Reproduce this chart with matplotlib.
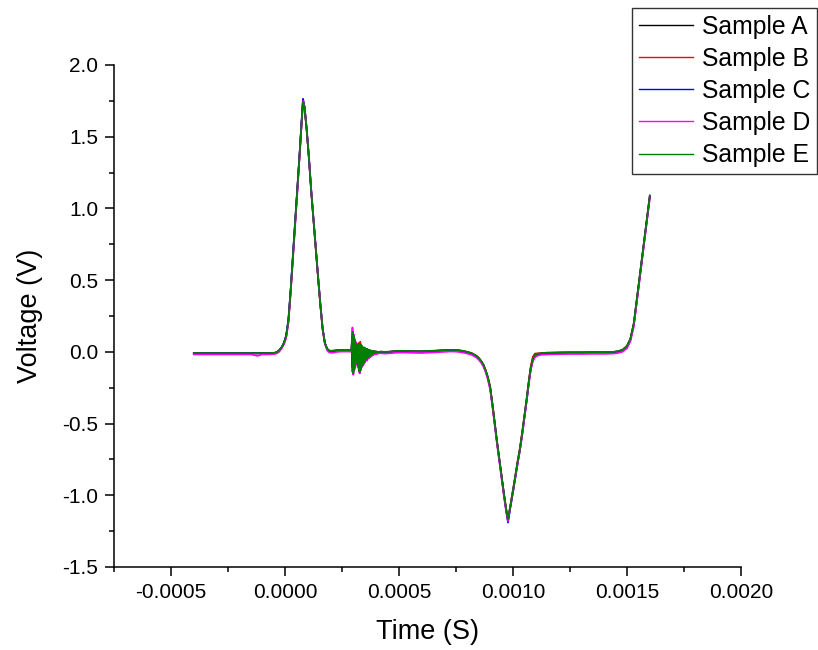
import numpy as np
import matplotlib
matplotlib.use("Agg")
import matplotlib.pyplot as plt
from matplotlib.ticker import MultipleLocator, FuncFormatter

plt.rcParams['font.family'] = ['Liberation Sans', 'DejaVu Sans']

# ---- data (time in microseconds, voltage in V) ----
time_pre_us = [-400, -350, -300, -250, -200, -150, -120, -100, -80, -60,
               -45, -35, -25, -15, -5, 5, 15, 25, 35, 45, 55, 65, 72, 79, 86,
               95, 105, 115, 125, 135, 145, 155, 165, 175, 185, 195, 210, 230, 250, 270, 285]
time_burst_us = [290, 292, 294, 296, 298, 300, 302, 304, 306, 308, 310, 312, 314, 316, 318,
                 320, 322, 324, 326, 328, 330, 332, 334, 336, 338, 340, 342, 344, 346, 348,
                 350, 352, 354, 356, 358, 360, 362, 364, 366, 368, 370, 372, 374, 376, 378,
                 380, 382, 384, 386, 388, 390, 392, 394, 396, 398, 400, 402, 404, 406, 408,
                 410, 412, 414]
time_post_us = [420, 440, 460, 480, 500, 530, 560, 600, 640, 680, 700, 720, 740, 760, 780, 800,
                820, 840, 850, 860, 870, 880, 890,
                900, 910, 920, 930, 940, 950, 960, 970, 978,
                988, 1000, 1010, 1020, 1030, 1040, 1050, 1060, 1070, 1078, 1087, 1096, 1110, 1127,
                1150, 1200, 1250, 1300, 1350, 1400, 1440, 1460, 1480, 1500,
                1515, 1530, 1545, 1560, 1575, 1590, 1600]

a_pre = [-0.010, -0.010, -0.010, -0.010, -0.010, -0.010, -0.010, -0.010, -0.010, -0.009,
         -0.007, -0.002, 0.010, 0.030, 0.060, 0.110, 0.220, 0.430, 0.670, 0.910, 1.150, 1.400, 1.580, 1.755, 1.700,
         1.550, 1.350, 1.120, 0.920, 0.720, 0.520, 0.330, 0.160, 0.060, 0.020, 0.005, 0.005, 0.010, 0.010, 0.010, 0.010]
b_pre = [-0.011, -0.011, -0.011, -0.011, -0.011, -0.011, -0.011, -0.011, -0.011, -0.010,
         -0.008, -0.003, 0.008, 0.028, 0.058, 0.105, 0.215, 0.425, 0.665, 0.905, 1.145, 1.395, 1.575, 1.750, 1.700,
         1.545, 1.345, 1.115, 0.915, 0.715, 0.515, 0.325, 0.155, 0.058, 0.020, 0.006, 0.008, 0.012, 0.011, 0.010, 0.010]
c_pre = [-0.010, -0.010, -0.010, -0.010, -0.010, -0.010, -0.010, -0.010, -0.010, -0.009,
         -0.007, -0.001, 0.012, 0.032, 0.062, 0.115, 0.225, 0.440, 0.680, 0.920, 1.160, 1.410, 1.595, 1.765, 1.705,
         1.555, 1.355, 1.125, 0.925, 0.725, 0.525, 0.335, 0.165, 0.062, 0.020, 0.005, 0.004, 0.009, 0.010, 0.009, 0.010]
d_pre = [-0.018, -0.018, -0.018, -0.018, -0.018, -0.018, -0.028, -0.018, -0.018, -0.017,
         -0.015, -0.010, 0.002, 0.022, 0.050, 0.095, 0.200, 0.410, 0.650, 0.890, 1.130, 1.385, 1.570, 1.750, 1.710,
         1.560, 1.360, 1.130, 0.930, 0.730, 0.530, 0.340, 0.165, 0.055, 0.010, -0.005, -0.006, 0.000, 0.002, 0.002, 0.002]
e_pre = [-0.009, -0.009, -0.009, -0.009, -0.009, -0.009, -0.009, -0.009, -0.009, -0.008,
         -0.006, -0.001, 0.011, 0.031, 0.061, 0.110, 0.220, 0.430, 0.670, 0.910, 1.150, 1.400, 1.580, 1.745, 1.695,
         1.550, 1.350, 1.120, 0.920, 0.720, 0.520, 0.330, 0.160, 0.062, 0.022, 0.008, 0.008, 0.012, 0.012, 0.012, 0.012]

a_burst = [0.01, 0.02, 0.08, -0.10, 0.11, -0.12, 0.09, -0.10, 0.07, -0.08,
           0.05, -0.07, 0.04, -0.05, 0.03, -0.08, 0.04, -0.11, 0.05, -0.12,
           0.06, -0.10, 0.04, -0.09, 0.03, -0.08, 0.03, -0.07, 0.02, -0.06,
           0.02, -0.05, 0.02, -0.045, 0.015, -0.04, 0.015, -0.035, 0.01, -0.03,
           0.01, -0.025, 0.01, -0.02, 0.005, -0.015, 0.005, -0.012, 0.004, -0.01,
           0.003, -0.008, 0.002, -0.006, 0.002, -0.005, 0.001, -0.004, 0.001, -0.003,
           0.0, -0.002, 0.0]
b_burst = [0.01, 0.02, 0.07, -0.09, 0.10, -0.11, 0.08, -0.09, 0.06, -0.07,
           0.05, -0.08, 0.04, -0.09, 0.05, -0.10, 0.06, -0.11, 0.06, -0.12,
           0.07, -0.10, 0.05, -0.09, 0.04, -0.08, 0.03, -0.07, 0.02, -0.06,
           0.02, -0.05, 0.02, -0.04, 0.015, -0.035, 0.01, -0.03, 0.01, -0.025,
           0.01, -0.02, 0.005, -0.018, 0.005, -0.015, 0.004, -0.012, 0.003, -0.01,
           0.003, -0.008, 0.002, -0.006, 0.002, -0.005, 0.001, -0.004, 0.001, -0.003,
           0.0, -0.002, 0.0]
c_burst = [0.01, 0.02, 0.09, -0.11, 0.12, -0.13, 0.10, -0.11, 0.07, -0.09,
           0.05, -0.07, 0.04, -0.06, 0.03, -0.09, 0.04, -0.12, 0.05, -0.13,
           0.05, -0.11, 0.04, -0.10, 0.03, -0.085, 0.03, -0.075, 0.02, -0.065,
           0.02, -0.055, 0.015, -0.05, 0.015, -0.045, 0.01, -0.04, 0.01, -0.03,
           0.01, -0.025, 0.005, -0.02, 0.005, -0.016, 0.004, -0.013, 0.003, -0.01,
           0.002, -0.008, 0.002, -0.006, 0.001, -0.005, 0.001, -0.004, 0.0, -0.003,
           0.0, -0.002, 0.0]
d_burst = [0.0, 0.02, 0.10, 0.17, -0.15, -0.16, 0.12, -0.13, 0.09, -0.11,
           0.07, -0.09, 0.05, -0.07, 0.03, -0.11, 0.04, -0.14, 0.05, -0.15,
           0.04, -0.13, 0.03, -0.11, 0.03, -0.10, 0.02, -0.09, 0.02, -0.08,
           0.02, -0.07, 0.01, -0.06, 0.01, -0.06, 0.01, -0.05, 0.005, -0.045,
           0.0, -0.04, 0.0, -0.035, 0.0, -0.03, -0.005, -0.025, -0.005, -0.02,
           -0.006, -0.018, -0.008, -0.016, -0.008, -0.014, -0.01, -0.013, -0.01, -0.012,
           -0.01, -0.011, -0.01]
e_burst = [0.01, 0.02, 0.12, -0.14, 0.14, -0.15, 0.11, -0.12, 0.08, -0.10,
           0.06, -0.08, 0.04, -0.06, 0.03, -0.10, 0.05, -0.13, 0.06, -0.14,
           0.05, -0.12, 0.04, -0.10, 0.04, -0.09, 0.03, -0.08, 0.03, -0.07,
           0.03, -0.06, 0.02, -0.05, 0.02, -0.05, 0.02, -0.04, 0.015, -0.035,
           0.01, -0.03, 0.01, -0.025, 0.01, -0.02, 0.005, -0.015, 0.005, -0.012,
           0.004, -0.01, 0.003, -0.008, 0.002, -0.006, 0.002, -0.004, 0.001, -0.003,
           0.0, -0.002, 0.0]

a_post = [0.000, -0.002, 0.000, 0.003, 0.005, 0.005, 0.003, 0.002, 0.005, 0.008, 0.010, 0.012, 0.012, 0.010, 0.005, -0.002,
          -0.012, -0.030, -0.045, -0.065, -0.090, -0.130, -0.180,
          -0.250, -0.370, -0.500, -0.630, -0.750, -0.870, -0.990, -1.100, -1.175,
          -1.080, -0.970, -0.870, -0.770, -0.680, -0.570, -0.450, -0.330, -0.200, -0.110, -0.050, -0.025, -0.015, -0.010,
          -0.008, -0.006, -0.005, -0.005, -0.004, -0.004, -0.002, 0.003, 0.012, 0.040,
          0.090, 0.200, 0.390, 0.580, 0.770, 0.960, 1.090]
b_post = [0.001, -0.001, 0.001, 0.004, 0.006, 0.006, 0.004, 0.003, 0.006, 0.009, 0.011, 0.012, 0.012, 0.010, 0.006, -0.001,
          -0.010, -0.028, -0.043, -0.062, -0.088, -0.128, -0.178,
          -0.245, -0.365, -0.495, -0.625, -0.745, -0.865, -0.985, -1.095, -1.170,
          -1.075, -0.965, -0.865, -0.765, -0.675, -0.565, -0.445, -0.325, -0.195, -0.100, -0.035, -0.012, -0.010, -0.008,
          -0.006, -0.005, -0.004, -0.004, -0.003, -0.003, -0.001, 0.004, 0.013, 0.041,
          0.088, 0.195, 0.385, 0.575, 0.765, 0.955, 1.085]
c_post = [0.000, -0.002, 0.000, 0.003, 0.005, 0.005, 0.003, 0.002, 0.005, 0.008, 0.010, 0.012, 0.012, 0.010, 0.004, -0.003,
          -0.013, -0.032, -0.047, -0.067, -0.093, -0.133, -0.185,
          -0.255, -0.375, -0.505, -0.635, -0.755, -0.875, -1.000, -1.110, -1.190,
          -1.090, -0.980, -0.880, -0.780, -0.690, -0.580, -0.460, -0.340, -0.210, -0.120, -0.060, -0.030, -0.018, -0.012,
          -0.009, -0.007, -0.006, -0.006, -0.005, -0.005, -0.003, 0.002, 0.010, 0.037,
          0.085, 0.190, 0.380, 0.570, 0.760, 0.950, 1.080]
d_post = [-0.010, -0.012, -0.010, -0.007, -0.005, -0.005, -0.007, -0.008, -0.005, -0.002, 0.000, 0.002, 0.002, 0.000, -0.005, -0.012,
          -0.022, -0.040, -0.056, -0.076, -0.102, -0.142, -0.195,
          -0.265, -0.385, -0.515, -0.645, -0.765, -0.885, -1.005, -1.110, -1.180,
          -1.085, -0.975, -0.875, -0.780, -0.690, -0.585, -0.465, -0.345, -0.215, -0.125, -0.065, -0.038, -0.025, -0.020,
          -0.018, -0.016, -0.015, -0.015, -0.014, -0.014, -0.012, -0.008, 0.000, 0.025,
          0.072, 0.178, 0.368, 0.560, 0.750, 0.940, 1.070]
e_post = [0.002, 0.000, 0.002, 0.005, 0.007, 0.007, 0.005, 0.004, 0.007, 0.010, 0.012, 0.014, 0.014, 0.012, 0.007, 0.000,
          -0.010, -0.028, -0.043, -0.063, -0.088, -0.128, -0.178,
          -0.248, -0.368, -0.498, -0.628, -0.748, -0.868, -0.988, -1.095, -1.168,
          -1.078, -0.968, -0.868, -0.768, -0.678, -0.568, -0.448, -0.328, -0.198, -0.108, -0.048, -0.022, -0.012, -0.008,
          -0.006, -0.004, -0.003, -0.003, -0.002, -0.002, 0.000, 0.005, 0.014, 0.042,
          0.092, 0.202, 0.392, 0.582, 0.772, 0.962, 1.085]

labels = ["Sample A", "Sample B", "Sample C", "Sample D", "Sample E"]
colors = ["#000000", "#ff0000", "#0000ff", "#ff00ff", "#008000"]
series = [(a_pre, a_burst, a_post), (b_pre, b_burst, b_post), (c_pre, c_burst, c_post),
          (d_pre, d_burst, d_post), (e_pre, e_burst, e_post)]

time_s = np.array(time_pre_us + time_burst_us + time_post_us) * 1e-6

fig = plt.figure(figsize=(8.18, 6.5), dpi=100)
ax = fig.add_axes([114 / 818, 1 - 567 / 650, (741 - 114) / 818, (567 - 65) / 650])

lines = []
for (pre, burst, post), lab, col in zip(series, labels, colors):
    v = np.array(pre + burst + post)
    ln, = ax.plot(time_s, v, color=col, lw=1.25, label=lab)
    lines.append(ln)

ax.set_xlim(-0.00075, 0.002)
ax.set_ylim(-1.5, 2.0)
ax.xaxis.set_major_locator(MultipleLocator(0.0005))
ax.xaxis.set_minor_locator(MultipleLocator(0.00025))
ax.yaxis.set_major_locator(MultipleLocator(0.5))
ax.yaxis.set_minor_locator(MultipleLocator(0.25))

def fx(v, p):
    v = round(v, 6)
    if abs(v) < 1e-9:
        v = 0.0
    return "%.4f" % v

def fy(v, p):
    v = round(v, 3)
    if abs(v) < 1e-9:
        v = 0.0
    return "%.1f" % v

ax.xaxis.set_major_formatter(FuncFormatter(fx))
ax.yaxis.set_major_formatter(FuncFormatter(fy))

for s in ["top", "right"]:
    ax.spines[s].set_visible(False)
for s in ["left", "bottom"]:
    ax.spines[s].set_linewidth(1.1)

ax.tick_params(which="major", direction="out", length=6.5, width=1.1, labelsize=15, pad=5)
ax.tick_params(which="minor", direction="out", length=3.6, width=1.1)

ax.set_xlabel("Time (S)", fontsize=19.5, labelpad=12)
ax.set_ylabel("Voltage (V)", fontsize=19.5, labelpad=14)

leg = fig.legend(lines, labels, loc="upper left", bbox_to_anchor=(632 / 818, 1 - 8 / 650),
                 bbox_transform=fig.transFigure, fontsize=17.8, frameon=True, fancybox=False,
                 shadow=False, borderpad=0.27, borderaxespad=0, handlelength=2.2,
                 handletextpad=0.36, labelspacing=0.33)
leg.get_frame().set_edgecolor("black")
leg.get_frame().set_linewidth(1.0)
for h in leg.get_lines():
    h.set_linewidth(1.0)

fig.savefig("out.png", dpi=100)
